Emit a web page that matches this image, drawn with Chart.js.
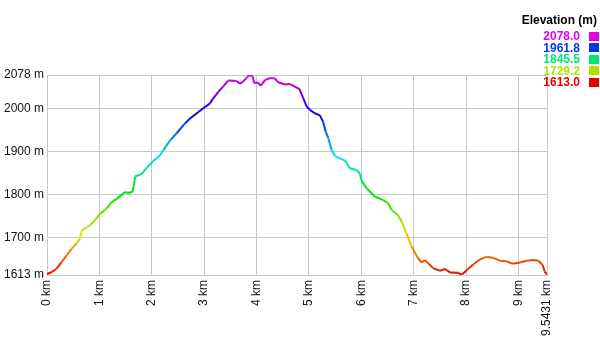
<!DOCTYPE html>
<html>
<head>
<meta charset="utf-8">
<script src="https://cdn.jsdelivr.net/npm/chart.js@4.4.1/dist/chart.umd.min.js"></script>
<style>
  html, body { margin: 0; padding: 0; background: #fff; }
  #wrap { position: relative; width: 600px; height: 350px; }
  #legend { position: absolute; right: 0; top: 0; font: bold 12px "Liberation Sans", Arial, sans-serif; }
  .ltitle { position: absolute; right: 3px; top: 13px; color: #000; white-space: nowrap; }
  .lrow { position: absolute; right: 20px; white-space: nowrap; height: 12px; line-height: 12px; }
  .lbox { position: absolute; right: 1px; width: 10px; height: 9px; }
</style>
</head>
<body>
<div id="wrap">
  <canvas id="elevChart" width="600" height="350"></canvas>
  <div id="legend"></div>
</div>
<script>
// distance along the track (km) and elevation (m)
const distKm = [0, 0.09, 0.18, 0.28, 0.38, 0.47, 0.57, 0.63, 0.66, 0.76, 0.82, 0.92, 1.01, 1.14, 1.23, 1.33,
  1.49, 1.55, 1.63, 1.66, 1.68, 1.81, 1.90, 2.03, 2.16, 2.22, 2.35, 2.47, 2.63, 2.73, 2.89, 3.02, 3.11, 3.17,
  3.27, 3.36, 3.46, 3.62, 3.68, 3.75, 3.81, 3.87, 3.93, 3.95, 4.03, 4.08, 4.16, 4.26, 4.35, 4.41, 4.54, 4.64,
  4.73, 4.82, 4.89, 4.96, 5.02, 5.11, 5.21, 5.27, 5.32, 5.37, 5.43, 5.50, 5.59, 5.69, 5.78, 5.91, 5.97, 6.01,
  6.10, 6.26, 6.42, 6.51, 6.58, 6.70, 6.77, 6.86, 6.96, 7.06, 7.15, 7.21, 7.28, 7.37, 7.50, 7.60, 7.69, 7.85,
  7.91, 8.01, 8.14, 8.26, 8.39, 8.52, 8.65, 8.77, 8.89, 9.03, 9.15, 9.28, 9.38, 9.46, 9.50, 9.5431];
const elevM = [1615, 1620, 1627, 1643, 1659, 1674, 1687, 1698, 1716, 1724, 1729, 1741, 1755, 1768, 1782, 1790,
  1806, 1804, 1806, 1822, 1842, 1848, 1862, 1878, 1892, 1903, 1926, 1942, 1965, 1977, 1992, 2004, 2012, 2023,
  2039, 2051, 2065, 2064, 2058, 2063, 2072, 2078, 2074, 2060, 2060, 2053, 2066, 2071, 2070, 2061, 2056, 2057,
  2051, 2045, 2024, 2004, 1997, 1989, 1984, 1969, 1946, 1931, 1904, 1889, 1884, 1879, 1861, 1857, 1849, 1830,
  1815, 1795, 1787, 1780, 1764, 1752, 1737, 1710, 1679, 1656, 1642, 1648, 1640, 1629, 1623, 1627, 1619, 1618,
  1613, 1624, 1638, 1649, 1655, 1653, 1646, 1645, 1639, 1642, 1646, 1648, 1646, 1636, 1621, 1614];

const xTicks = [0, 1, 2, 3, 4, 5, 6, 7, 8, 9, 9.5431];
const yTicks = [1613, 1700, 1800, 1900, 2000, 2078];
const legendValues = [2078.0, 1961.8, 1845.5, 1729.2, 1613.0];

const minElev = 1613, maxElev = 2078;

//red at the bottom, magenta at the top
function elevColor(v) {
  const t = Math.min(1, Math.max(0, (v - minElev) / (maxElev - minElev)));
  return 'hsl(' + (300 * t) + ', 100%, 45%)';
}

const points = distKm.map((d, i) => ({x: d, y: elevM[i]}));
const FONT = {family: '"Liberation Sans", Arial, sans-serif', size: 12};
const GRID = '#c8c8c8';

const elevChart = new Chart(document.getElementById('elevChart'), {
  type: 'line',
  data: {
    datasets: [{
      label: 'Elevation (m)',
      data: points,
      borderWidth: 2,
      pointRadius: 0,
      tension: 0,
      segment: {
        borderColor: seg => elevColor((seg.p0.parsed.y + seg.p1.parsed.y) / 2)
      }
    }]
  },
  options: {
    responsive: false,
    animation: false,
    layout: {padding: {top: 75, right: 53, left: 0, bottom: 0}},
    plugins: {legend: {display: false}, tooltip: {enabled: false}},
    scales: {
      x: {
        type: 'linear',
        min: 0,
        max: 9.5431,
        afterBuildTicks: s => { s.ticks = xTicks.map(v => ({value: v})); },
        afterFit: s => { s.height = 75; },
        grid: {color: GRID, drawTicks: false},
        border: {color: GRID},
        ticks: {
          autoSkip: false,
          minRotation: 90,
          maxRotation: 90,
          padding: 5,
          color: '#111',
          font: FONT,
          callback: v => v + ' km'
        }
      },
      y: {
        min: 1613,
        max: 2078,
        afterBuildTicks: s => { s.ticks = yTicks.map(v => ({value: v})); },
        afterFit: s => { s.width = 47; },
        grid: {color: GRID, drawTicks: false},
        border: {color: GRID},
        ticks: {
          padding: 3,
          color: '#111',
          font: FONT,
          callback: v => v + ' m'
        }
      }
    }
  }
});

//legend on the right: title, then value labels with colour boxes
const legend = document.getElementById('legend');
const title = document.createElement('div');
title.className = 'ltitle';
title.textContent = 'Elevation (m)';
legend.appendChild(title);
legendValues.forEach((v, i) => {
  const top = 30 + i * 11.5;
  const row = document.createElement('div');
  row.className = 'lrow';
  row.style.top = top + 'px';
  row.style.color = elevColor(v);
  row.textContent = v.toFixed(1);
  legend.appendChild(row);
  const box = document.createElement('div');
  box.className = 'lbox';
  box.style.top = (top + 1.5) + 'px';
  box.style.background = elevColor(v);
  legend.appendChild(box);
});
</script>
</body>
</html>
